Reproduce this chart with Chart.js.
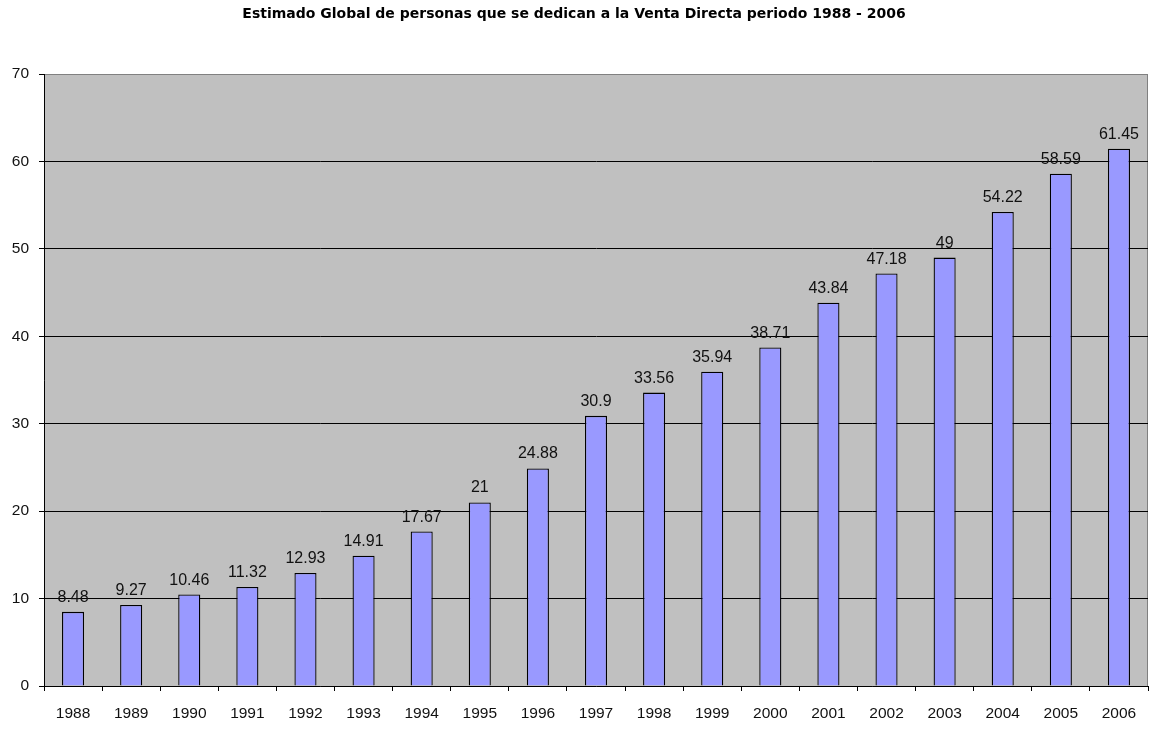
<!DOCTYPE html>
<html>
<head>
<meta charset="utf-8">
<script src="https://cdn.jsdelivr.net/npm/chart.js@4/dist/chart.umd.min.js"></script>
<style>
  html, body { margin: 0; padding: 0; background: #ffffff; }
  #wrap { width: 1150px; height: 730px; }
</style>
</head>
<body>
<div id="wrap"><canvas id="c" width="1150" height="730"></canvas></div>
<script>
const years = ['1988','1989','1990','1991','1992','1993','1994','1995','1996','1997',
               '1998','1999','2000','2001','2002','2003','2004','2005','2006'];
const sellers = [8.48, 9.27, 10.46, 11.32, 12.93, 14.91, 17.67, 21, 24.88, 30.9,
                 33.56, 35.94, 38.71, 43.84, 47.18, 49, 54.22, 58.59, 61.45];
const yTicks = [0, 10, 20, 30, 40, 50, 60, 70];
const chartTitle = 'Estimado Global de personas que se dedican a la Venta Directa periodo 1988 - 2006';

// Gray plot background with a thin gray frame
const plotBackground = {
  id: 'plotBackground',
  beforeDraw(chart) {
    const { ctx, chartArea: a } = chart;
    ctx.save();
    ctx.fillStyle = '#c0c0c0';
    ctx.fillRect(a.left, a.top, a.right - a.left, a.bottom - a.top);
    ctx.strokeStyle = '#808080';
    ctx.lineWidth = 1;
    ctx.strokeRect(a.left + 0.5, a.top + 0.5, a.right - a.left - 1, a.bottom - a.top);
    ctx.restore();
  }
};

// Value labels above each bar
const valueLabels = {
  id: 'valueLabels',
  afterDatasetsDraw(chart) {
    const { ctx } = chart;
    const meta = chart.getDatasetMeta(0);
    ctx.save();
    ctx.font = '16px "Liberation Sans", Arial, sans-serif';
    ctx.fillStyle = '#111111';
    ctx.textAlign = 'center';
    ctx.textBaseline = 'alphabetic';
    meta.data.forEach((bar, i) => {
      ctx.fillText(String(sellers[i]), bar.x, bar.y - 10);
    });
    ctx.restore();
  }
};

new Chart(document.getElementById('c'), {
  type: 'bar',
  data: {
    labels: years,
    datasets: [{
      data: sellers,
      backgroundColor: '#9999ff',
      borderColor: '#000000',
      borderWidth: 1.3,
      borderSkipped: 'bottom',
      barPercentage: 0.38,
      categoryPercentage: 1
    }]
  },
  options: {
    responsive: false,
    animation: false,
    layout: { padding: { left: 0, right: 2, top: 0, bottom: 0 } },
    plugins: {
      legend: { display: false },
      tooltip: { enabled: false },
      title: {
        display: true,
        text: chartTitle,
        color: '#000000',
        font: { family: '"DejaVu Sans", sans-serif', size: 14, weight: 'bold', lineHeight: 1.2 },
        padding: { top: 6, bottom: 51.2 }
      }
    },
    scales: {
      x: {
        offset: true,
        grid: {
          offset: true,
          drawOnChartArea: false,
          drawTicks: true,
          tickLength: 5,
          tickColor: '#000000'
        },
        border: { display: true, color: '#000000', width: 1 },
        ticks: {
          color: '#111111',
          font: { family: '"Liberation Sans", Arial, sans-serif', size: 15.5 },
          padding: 13,
          maxRotation: 0,
          autoSkip: false
        },
        afterFit(axis) { axis.height = 44; }
      },
      y: {
        min: 0,
        max: 70,
        afterBuildTicks(axis) { axis.ticks = yTicks.map(v => ({ value: v })); },
        grid: {
          color: ctx => (ctx.tick && ctx.tick.value === 70) ? '#808080' : (ctx.tick && ctx.tick.value === 0 ? 'rgba(0,0,0,0)' : '#000000'),
          lineWidth: 1,
          drawTicks: true,
          tickLength: 5,
          tickColor: '#000000'
        },
        border: { display: true, color: '#000000', width: 1 },
        ticks: {
          color: '#111111',
          font: { family: '"Liberation Sans", Arial, sans-serif', size: 15.5 },
          padding: 10
        },
        afterFit(axis) { axis.width = 44; }
      }
    }
  },
  plugins: [plotBackground, valueLabels]
});
</script>
</body>
</html>
